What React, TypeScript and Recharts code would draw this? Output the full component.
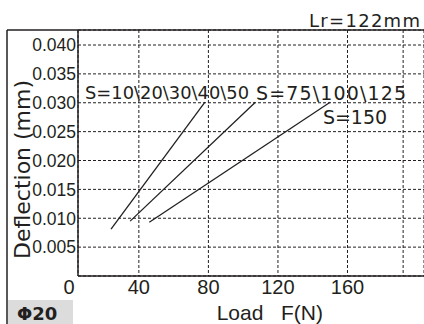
import { LineChart, Line, XAxis, YAxis, CartesianGrid } from 'recharts';

const loadS10to50 = [24, 78];
const deflS10to50 = [0.0081, 0.0301];
const loadS75to125 = [35, 107];
const deflS75to125 = [0.0095, 0.0301];
const loadS150 = [46, 150];
const deflS150 = [0.0093, 0.0301];

const xTicks = [5, 40, 80, 120, 160, 192];
const yTicks = [0.005, 0.01, 0.015, 0.02, 0.025, 0.03, 0.035, 0.04];

const seriesLabels = ['S=10\\20\\30\\40\\50', 'S=75\\100\\125', 'S=150'];

const ink = '#231f20';

const toPoints = (loads: number[], defl: number[]) =>
  loads.map((f, i) => ({ f, d: defl[i] }));

const series = [
  toPoints(loadS10to50, deflS10to50),
  toPoints(loadS75to125, deflS75to125),
  toPoints(loadS150, deflS150),
];

const XTick = ({ x, payload }: any) => {
  const v = payload.value;
  if (v === 192) return null;
  const first = v === xTicks[0];
  return (
    <text
      x={x + (first ? -9 : 0)}
      y={294}
      textAnchor="middle"
      fontFamily="Liberation Sans"
      fontSize={20}
      fill={ink}
    >
      {first ? '0' : v}
    </text>
  );
};

const YTick = ({ y, payload }: any) => (
  <text
    x={76}
    y={y}
    dy="0.36em"
    textAnchor="end"
    fontFamily="Liberation Sans"
    fontSize={17.5}
    fill={ink}
  >
    {payload.value.toFixed(3)}
  </text>
);

export default function App() {
  return (
    <div style={{ position: 'absolute', left: 0, top: 0, width: 424, height: 324, background: '#fff' }}>
      <LineChart width={424} height={324} margin={{ top: 30, right: 0, bottom: 0, left: 0 }}>
        <CartesianGrid stroke={ink} strokeDasharray="3 2" strokeWidth={1} />
        <XAxis
          type="number"
          dataKey="f"
          domain={[5, 204]}
          ticks={xTicks}
          height={48}
          tickLine={false}
          axisLine={{ stroke: ink, strokeWidth: 1.5 }}
          tick={<XTick />}
          interval={0}
        />
        <YAxis
          type="number"
          dataKey="d"
          domain={[0, 0.0426]}
          ticks={yTicks}
          width={78}
          tickLine={false}
          axisLine={{ stroke: ink, strokeWidth: 1.5 }}
          tick={<YTick />}
          interval={0}
        />
        {series.map((data, i) => (
          <Line
            key={seriesLabels[i]}
            data={data}
            dataKey="d"
            name={seriesLabels[i]}
            stroke={ink}
            strokeWidth={1.3}
            dot={false}
            isAnimationActive={false}
          />
        ))}
      </LineChart>
      <svg
        width={424}
        height={324}
        style={{ position: 'absolute', left: 0, top: 0, pointerEvents: 'none' }}
      >
        <line x1={7} y1={30} x2={424} y2={30} stroke={ink} strokeWidth={1.5} />
        <line x1={7} y1={30} x2={7} y2={324} stroke={ink} strokeWidth={1.5} />
        <rect x={8} y={300} width={65} height={24} fill="#dcdcdc" />
        <text x={17} y={320} fontFamily="DejaVu Sans" fontWeight="bold" fontSize={18} fill={ink}>
          Φ20
        </text>
        <text x={420} y={26.5} textAnchor="end" fontFamily="DejaVu Sans" fontSize={18} textLength={111} lengthAdjust="spacing" fill={ink}>
          Lr=122mm
        </text>
        <text transform="translate(30,169.5) rotate(-90)" textAnchor="middle" fontFamily="DejaVu Sans" fontSize={22} fill={ink}>
          Deflection (mm)
        </text>
        <text x={216.7} y={320} fontFamily="Liberation Sans" fontSize={21} fill={ink} style={{ whiteSpace: 'pre' }}>
          {'Load   F(N)'}
        </text>
        <text x={85} y={98.5} fontFamily="DejaVu Sans" fontSize={18} textLength={164} lengthAdjust="spacingAndGlyphs" fill={ink}>
          {seriesLabels[0]}
        </text>
        <text x={256} y={99.5} fontFamily="DejaVu Sans" fontSize={19} textLength={150} lengthAdjust="spacing" fill={ink}>
          {seriesLabels[1]}
        </text>
        <text x={323} y={123.5} fontFamily="DejaVu Sans" fontSize={19} textLength={64} lengthAdjust="spacing" fill={ink}>
          {seriesLabels[2]}
        </text>
      </svg>
    </div>
  );
}
